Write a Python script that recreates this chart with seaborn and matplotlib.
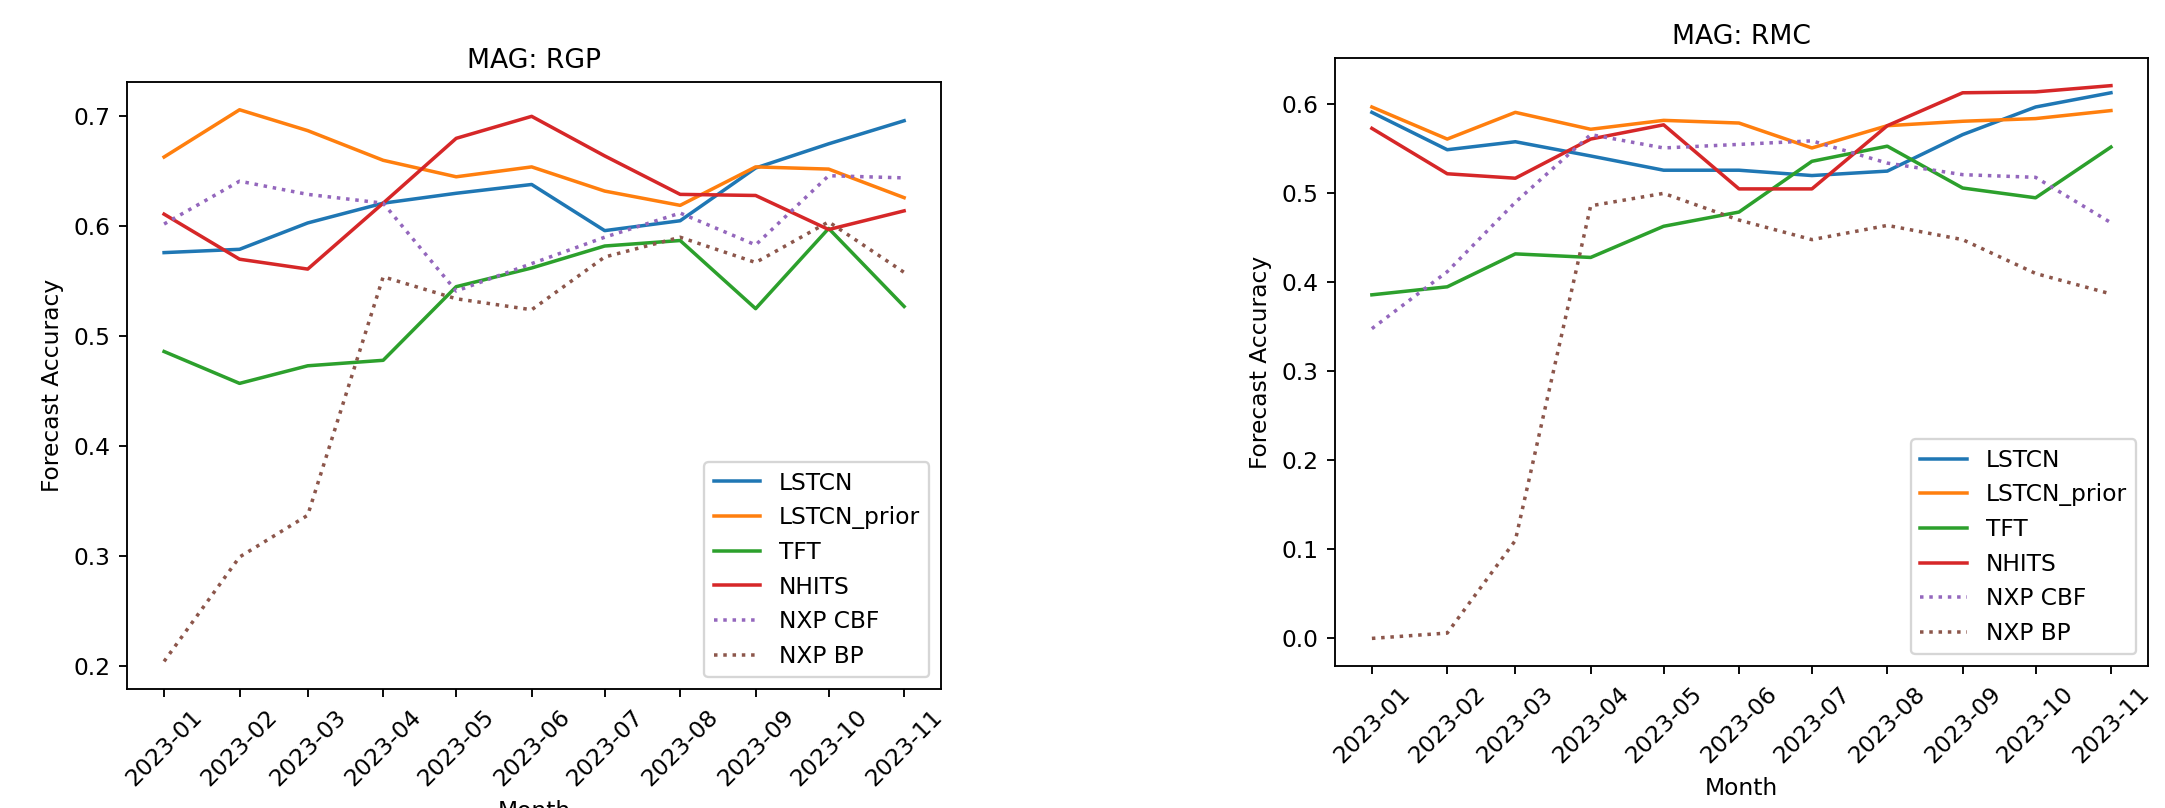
import numpy as np
import pandas as pd
import matplotlib
matplotlib.use("Agg")
import matplotlib.pyplot as plt
import matplotlib.dates as mdates
import seaborn as sns

# months on the x axis (real dates, so the spacing follows month lengths)
months = pd.date_range("2023-01-01", "2023-11-01", freq="MS")

models = ["LSTCN", "LSTCN_prior", "TFT", "NHITS", "NXP CBF", "NXP BP"]

# MAG: RGP
rgp_lstcn = [0.576, 0.579, 0.603, 0.621, 0.630, 0.638, 0.596, 0.605, 0.653, 0.675, 0.696]
rgp_lstcn_prior = [0.663, 0.706, 0.687, 0.660, 0.645, 0.654, 0.632, 0.619, 0.654, 0.652, 0.626]
rgp_tft = [0.486, 0.457, 0.473, 0.478, 0.545, 0.562, 0.582, 0.587, 0.525, 0.598, 0.527]
rgp_nhits = [0.611, 0.570, 0.561, 0.621, 0.680, 0.700, 0.664, 0.629, 0.628, 0.597, 0.614]
rgp_nxp_cbf = [0.602, 0.641, 0.629, 0.621, 0.541, 0.566, 0.590, 0.612, 0.583, 0.646, 0.644]
rgp_nxp_bp = [0.204, 0.299, 0.337, 0.554, 0.534, 0.524, 0.572, 0.590, 0.567, 0.604, 0.558]

# MAG: RMC
rmc_lstcn = [0.591, 0.549, 0.558, 0.542, 0.526, 0.526, 0.520, 0.525, 0.566, 0.597, 0.613]
rmc_lstcn_prior = [0.597, 0.561, 0.591, 0.572, 0.582, 0.579, 0.551, 0.576, 0.581, 0.584, 0.593]
rmc_tft = [0.386, 0.395, 0.432, 0.428, 0.463, 0.479, 0.536, 0.553, 0.506, 0.495, 0.552]
rmc_nhits = [0.573, 0.522, 0.517, 0.561, 0.577, 0.505, 0.505, 0.576, 0.613, 0.614, 0.621]
rmc_nxp_cbf = [0.348, 0.412, 0.490, 0.566, 0.551, 0.555, 0.559, 0.534, 0.521, 0.518, 0.467]
rmc_nxp_bp = [0.000, 0.006, 0.110, 0.486, 0.500, 0.470, 0.448, 0.464, 0.448, 0.410, 0.387]

rgp = [rgp_lstcn, rgp_lstcn_prior, rgp_tft, rgp_nhits, rgp_nxp_cbf, rgp_nxp_bp]
rmc = [rmc_lstcn, rmc_lstcn_prior, rmc_tft, rmc_nhits, rmc_nxp_cbf, rmc_nxp_bp]

colors = sns.color_palette("tab10", 6)


def plot_panel(ax, series, title):
    for i, (name, vals) in enumerate(zip(models, series)):
        ls = ":" if name.startswith("NXP") else "-"
        sns.lineplot(x=months, y=vals, ax=ax, label=name, color=colors[i], linestyle=ls)
    ax.set_title(title, fontsize=11.4)
    ax.set_xlabel("Month")
    ax.set_ylabel("Forecast Accuracy")
    ax.xaxis.set_major_locator(mdates.MonthLocator())
    ax.xaxis.set_major_formatter(mdates.DateFormatter("%Y-%m"))
    for lbl in ax.get_xticklabels():
        lbl.set_rotation(45)
    ax.legend(loc="lower right")


DPI = 168
fig = plt.figure(figsize=(2165 / DPI, 808 / DPI), dpi=DPI)
ax1 = fig.add_axes([0.0587, 0.1473, 0.376, 0.751])
ax2 = fig.add_axes([0.6166, 0.1757, 0.3755, 0.7525])

plot_panel(ax1, rgp, "MAG: RGP")
plot_panel(ax2, rmc, "MAG: RMC")

fig.savefig("out.png", dpi=DPI)
